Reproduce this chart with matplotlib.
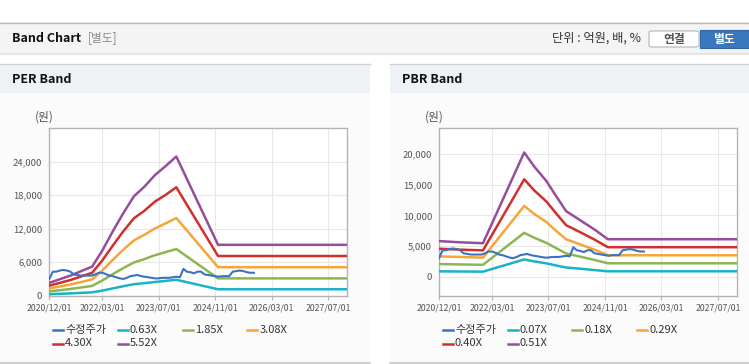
import matplotlib
matplotlib.use("Agg")
from matplotlib import pyplot as plt
from matplotlib.patches import Rectangle, FancyBboxPatch
from matplotlib.lines import Line2D
import pandas as pd

plt.rcParams['font.family'] = ['Noto Sans CJK KR', 'DejaVu Sans']

W, H = 749, 364

# ---- data ----
price_dates = pd.date_range('2020-12-01', periods=59, freq='MS')
price = [3000, 4300, 4300, 4500, 4600, 4500, 4300, 3800, 3700, 3600,
         3600, 3600, 3600, 3800, 4100, 4100, 3900, 3600, 3500, 3300,
         3100, 3000, 3200, 3500, 3600, 3700, 3500, 3400, 3300, 3200,
         3100, 3100, 3200, 3200, 3200, 3300, 3400, 3300, 4800, 4300,
         4200, 4000, 4300, 4300, 3800, 3700, 3600, 3500, 3400, 3500,
         3500, 3500, 4300, 4400, 4500, 4400, 4200, 4100, 4100]

per_dates = pd.to_datetime(['2020-12-01', '2021-06-01', '2021-12-05', '2022-03-01', '2022-06-01',
                            '2022-09-01', '2022-12-01', '2023-03-01', '2023-06-01', '2023-09-01',
                            '2023-12-01', '2024-11-25', '2027-12-12'])
per_labels = ['0.63X', '1.85X', '3.08X', '4.30X', '5.52X']
per_063 = [270, 410, 600, 900, 1300, 1700, 2050, 2250, 2450, 2650, 2850, 1150, 1150]
per_185 = [780, 1200, 1750, 2700, 3850, 4950, 5950, 6550, 7250, 7800, 8350, 3100, 3100]
per_308 = [1300, 2000, 2900, 4450, 6400, 8250, 9900, 10900, 12050, 12950, 13900, 5100, 5100]
per_430 = [1800, 2800, 4100, 6250, 8950, 11550, 13850, 15200, 16850, 18050, 19400, 7100, 7100]
per_552 = [2300, 3600, 5200, 8000, 11500, 14800, 17800, 19500, 21600, 23200, 24900, 9100, 9100]

pbr_dates = pd.to_datetime(['2020-12-01', '2021-06-01', '2021-12-15', '2022-12-05', '2023-03-01',
                            '2023-06-15', '2023-09-01', '2023-12-01', '2024-04-01', '2024-08-01',
                            '2024-11-25', '2027-12-12'])
pbr_labels = ['0.07X', '0.18X', '0.29X', '0.40X', '0.51X']
pbr_007 = [850, 830, 800, 2800, 2480, 2150, 1830, 1480, 1280, 1060, 860, 860]
pbr_018 = [2050, 1980, 1920, 7150, 6350, 5500, 4700, 3780, 3250, 2720, 2170, 2170]
pbr_029 = [3300, 3200, 3100, 11550, 10250, 8900, 7550, 6100, 5250, 4400, 3480, 3480]
pbr_040 = [4550, 4400, 4280, 15900, 14100, 12250, 10450, 8400, 7250, 6050, 4800, 4800]
pbr_051 = [5800, 5600, 5450, 20300, 18000, 15600, 13300, 10700, 9200, 7700, 6100, 6100]

x_ticks = pd.to_datetime(['2020-12-01', '2022-03-01', '2023-07-01', '2024-11-01', '2026-03-01', '2027-07-01'])
x_end = pd.Timestamp('2027-12-12')

price_color = '#3a73c2'
band_colors = ['#19b3c6', '#8db653', '#f5a636', '#cf302b', '#944e9b']


def fx(x):
    return x / W


def fy(y):
    return 1 - y / H


def rect(fig, x0, y0, x1, y1, **kw):
    kw.setdefault('zorder', -10)
    fig.add_artist(Rectangle((fx(x0), fy(y1)), fx(x1) - fx(x0), fy(y0) - fy(y1),
                             transform=fig.transFigure, **kw))


def hline(fig, x0, x1, y, color, lw=1):
    fig.add_artist(Line2D([fx(x0), fx(x1)], [fy(y), fy(y)], transform=fig.transFigure,
                          color=color, lw=lw, zorder=-5))


fig = plt.figure(figsize=(W / 100, H / 100), dpi=100)
fig.patch.set_facecolor('white')

# top header bar
rect(fig, 0, 22, W, 52, facecolor='#f4f4f4', edgecolor='none')
hline(fig, 0, W, 22.5, '#b9b9b9')
hline(fig, 0, W, 52.5, '#bdbdbd')
hline(fig, 0, W, 54, '#e6e6e6', lw=1.5)
fig.text(fx(12), fy(38), 'Band Chart', fontsize=9, fontweight='bold', color='#111', va='center')
fig.text(fx(88), fy(38), '[별도]', fontsize=8.5, color='#8a8a8a', va='center')
fig.text(fx(641), fy(38.5), '단위 : 억원, 배, %', fontsize=8.8, color='#333', va='center', ha='right')
fig.add_artist(FancyBboxPatch((fx(649), fy(47)), fx(50), fy(31) - fy(47),
                              boxstyle='round,pad=0,rounding_size=0.004', transform=fig.transFigure,
                              facecolor='white', edgecolor='#b5b5b5', lw=0.8))
fig.text(fx(674), fy(39), '연결', fontsize=8.5, fontweight='bold', color='#555', va='center', ha='center')
rect(fig, 700, 30, W, 48, facecolor='#3a78bd', edgecolor='#2f67a8', lw=0.8, zorder=1)
fig.text(fx(724), fy(39), '별도', fontsize=8.5, fontweight='bold', color='white', va='center', ha='center')

# panels
panels = [
    (0, 370, 'PER Band', per_dates, [per_063, per_185, per_308, per_430, per_552], per_labels,
     [0, 6000, 12000, 18000, 24000], (0, 30000), 35),
    (390, W, 'PBR Band', pbr_dates, [pbr_007, pbr_018, pbr_029, pbr_040, pbr_051], pbr_labels,
     [0, 5000, 10000, 15000, 20000], (-3100, 24300), 425),
]
axes_px = [(49.3, 347, 128, 295.7), (439, 737, 128, 295.5)]

for (px0, px1, title, bdates, bands, blabels, yticks, ylim, unit_x), (ax0, ax1, ay0, ay1) in zip(panels, axes_px):
    rect(fig, px0, 93, px1, 362, facecolor='#fbfbfb', edgecolor='none')
    rect(fig, px0, 64, px1, 93, facecolor='#eef2f7', edgecolor='none')
    hline(fig, px0, px1, 64, '#d0d0d0')
    hline(fig, px0, px1, 362.5, '#cfcfcf', lw=1.5)
    fig.text(fx(px0 + 12), fy(79.5), title, fontsize=9, fontweight='bold', color='#111', va='center')
    fig.text(fx(unit_x), fy(117), '(원)', fontsize=8.5, color='#555', va='center')

    ax = fig.add_axes([fx(ax0), fy(ay1), fx(ax1) - fx(ax0), fy(ay0) - fy(ay1)])
    ax.set_facecolor('white')
    ax.plot(price_dates, price, color=price_color, lw=1.5, zorder=4)
    for vals, c in zip(bands, band_colors):
        ax.plot(bdates, vals, color=c, lw=1.8, zorder=3)

    ax.set_xlim(pd.Timestamp('2020-12-01'), x_end)
    ax.set_ylim(*ylim)
    ax.set_xticks(x_ticks)
    ax.set_xticklabels([d.strftime('%Y/%m/%d') for d in x_ticks])
    ax.set_yticks(yticks)
    ax.set_yticklabels([f'{v:,}' for v in yticks])
    ax.grid(True, color='#e8e8e8', lw=0.8)
    ax.set_axisbelow(True)
    for s in ax.spines.values():
        s.set_color('#b4b4b4')
        s.set_linewidth(1.0)
    ax.tick_params(axis='x', length=3, width=0.8, color='#b4b4b4', pad=2.5, labelsize=6.3, labelcolor='#555')
    ax.tick_params(axis='y', length=0, pad=5, labelsize=6.8, labelcolor='#555')

    # legend
    labels = ['수정주가'] + blabels
    colors = [price_color] + band_colors
    for i, (lab, c) in enumerate(zip(labels, colors)):
        lx = ax0 + 4 + (i % 4) * 64.7
        ly = 330 + (i // 4) * 13.5
        fig.add_artist(Line2D([fx(lx), fx(lx + 10)], [fy(ly), fy(ly)], transform=fig.transFigure,
                              color=c, lw=1.8))
        fig.text(fx(lx + 12), fy(ly), lab, fontsize=8, color='#333', va='center')

fig.savefig('out.png', dpi=100)
